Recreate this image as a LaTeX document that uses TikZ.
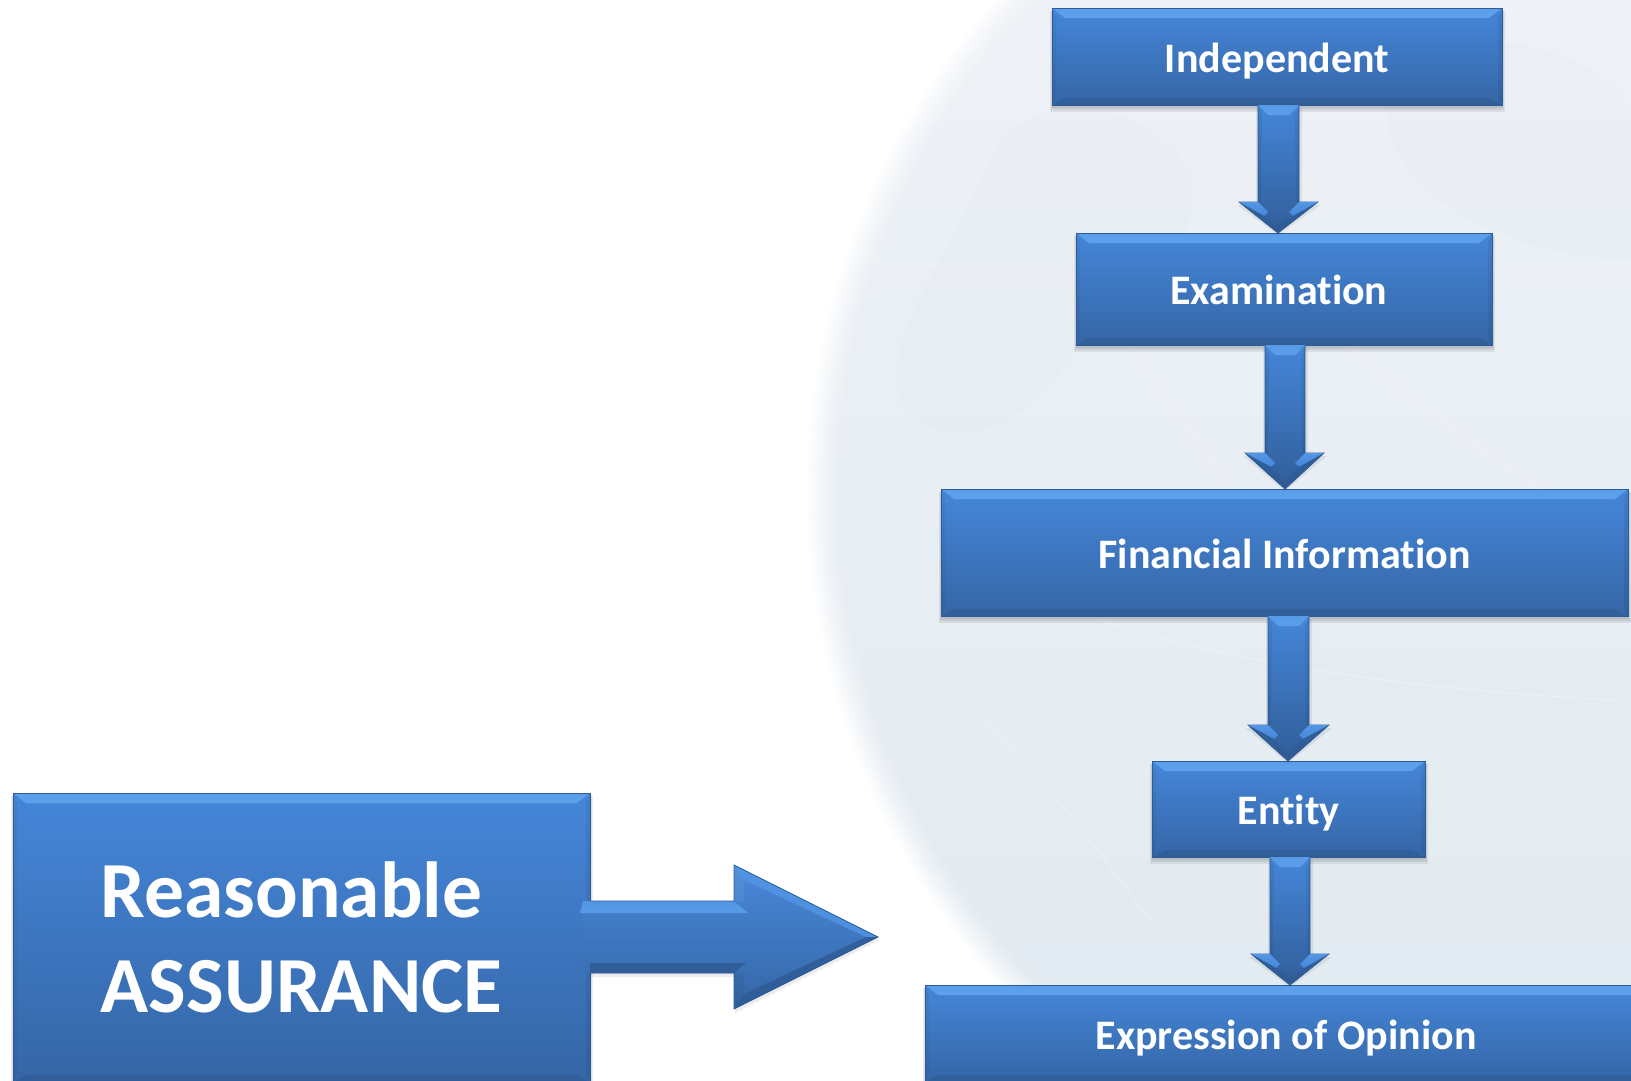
\documentclass[tikz,border=0pt]{standalone}
\usepackage{fontspec}
\setmainfont[Ligatures=NoCommon]{Carlito}
\usetikzlibrary{calc}
\definecolor{boxtop}{HTML}{4586D9}
\definecolor{boxbot}{HTML}{3566A6}
\definecolor{striptop}{HTML}{5FA2EC}
\definecolor{stripbot}{HTML}{2F5A92}
\definecolor{boxedge}{HTML}{2E5C96}
\definecolor{globetop}{HTML}{F1F3F8}
\definecolor{globebot}{HTML}{DFE9EF}
\tikzset{
  stepbox/.style={rectangle,inner sep=0pt,outer sep=0pt,draw=boxedge,line width=.8pt,
    top color=boxtop,bottom color=boxbot,text=white,font=\bfseries\fontsize{42}{50}\selectfont,
    text height=31pt,text depth=0pt,align=center},
  bigbox/.style={stepbox,font=\bfseries\fontsize{79.5}{95}\selectfont,text height=,text depth=,align=left},
  softshadow/.style={fill=black,opacity=.07},
  globeline/.style={draw=white,opacity=.3,line width=1pt},
  globeland/.style={fill=black,opacity=.007}
}
% name, x1, y1, x2, y2, style, text
\newcommand{\bevelbox}[7]{%
  \fill[softshadow] (#2-2,#3+3) rectangle (#4+3,#5+7);
  \fill[softshadow] (#2-1,#3+3) rectangle (#4+2,#5+5);
  \fill[softshadow] (#2,#3+3) rectangle (#4+1,#5+3);
  \node[#6,minimum width={(#4-#2)*1pt},minimum height={(#5-#3)*1pt}] (#1) at ({(#2+#4)/2},{(#3+#5)/2}) {#7};
  \shade[top color=striptop!80!boxtop,bottom color=striptop]
    (#1.north west) -- (#1.north east) -- ([shift={(-13,10)}]#1.north east) -- ([shift={(13,10)}]#1.north west) -- cycle;
  \fill[stripbot,opacity=.6] (#1.south west) -- (#1.south east) -- ([shift={(-13,-7)}]#1.south east) -- ([shift={(13,-7)}]#1.south west) -- cycle;
  \fill[black,opacity=.06] (#1.north east) -- (#1.south east) -- ([shift={(-4,-7)}]#1.south east) -- ([shift={(-4,10)}]#1.north east) -- cycle;
  \fill[black,opacity=.04] (#1.north west) -- (#1.south west) -- ([shift={(4,-7)}]#1.south west) -- ([shift={(4,10)}]#1.north west) -- cycle;
  \draw[boxedge,line width=.8pt] (#1.north west) rectangle (#1.south east);
}
% from node, to node, shaft left, shaft right, head left, head right, tip x, head base y
\newcommand{\blockarrow}[8]{%
  \coordinate (tl) at (#3,0 |- #1.south);
  \coordinate (tr) at (#4,0 |- #1.south);
  \coordinate (tip) at (#7,0 |- #2.north);
  \coordinate (bl) at (#3,#8);
  \coordinate (br) at (#4,#8);
  \coordinate (hl) at (#5,#8);
  \coordinate (hr) at (#6,#8);
  \fill[softshadow] ([shift={(3,3)}]tr) -- ([shift={(3,3)}]br) -- ([shift={(3,3)}]hr) -- ([shift={(0,2)}]tip) -- ([shift={(-2,3)}]hl) -- ([shift={(-2,3)}]bl) -- ([shift={(-2,3)}]tl) -- cycle;
  \shade[top color=boxtop,bottom color=boxbot!92!black,draw=boxedge,line width=.7pt]
    (tl) -- (bl) -- (hl) -- (tip) -- (hr) -- (br) -- (tr) -- cycle;
  \shade[top color=striptop!70!boxtop,bottom color=striptop!85!boxtop]
    (tl) -- (tr) -- ([shift={(-10,10)}]tr) -- ([shift={(10,10)}]tl) -- cycle;
  \fill[black,opacity=.06] (tl) -- ([shift={(4,10)}]tl) -- ([shift={(3,0)}]bl) -- (bl) -- cycle;
  \fill[black,opacity=.06] (tr) -- ([shift={(-4,10)}]tr) -- ([shift={(-3,0)}]br) -- (br) -- cycle;
  \shade[top color=striptop!60!boxtop,bottom color=boxtop]
    (hl) -- (bl) -- ([shift={(10,10)}]bl) -- ([shift={(6,14)}]bl) -- cycle;
  \shade[top color=striptop!60!boxtop,bottom color=boxtop]
    (hr) -- (br) -- ([shift={(-10,10)}]br) -- ([shift={(-6,14)}]br) -- cycle;
  \fill[stripbot,opacity=.6] (hl) -- (tip) -- ([shift={(0,-8)}]tip) -- ([shift={(6,14)}]bl) -- cycle;
  \fill[stripbot,opacity=.6] (hr) -- (tip) -- ([shift={(0,-8)}]tip) -- ([shift={(-6,14)}]br) -- cycle;
}
\begin{document}
\begin{tikzpicture}[x=1pt,y=-1pt]
\useasboundingbox (0,0) rectangle (1631,1080);
\fill[white] (0,0) rectangle (1631,1080);
% globe
\begin{scope}
  \clip (0,0) rectangle (1631,1080);
  \shade[top color=globetop,bottom color=globebot] (1545,490) circle[radius=737];
  \draw[white,line width=4pt] (1545,490) circle[radius=739];
  \foreach \i in {0,...,11}{
    \pgfmathsetmacro{\op}{(1-(\i+.5)/12)^1.5}
    \draw[white,opacity=\op,line width=3pt] (1545,490) circle[radius=737-1.5-\i*3];
  }
  \fill[globeland] (1000,140) .. controls (1040,90) and (1150,100) .. (1190,170) .. controls (1210,260) and (1120,290) .. (1080,340) .. controls (1040,420) and (950,470) .. (900,400) .. controls (880,330) and (960,240) .. cycle;
  \fill[globeland] (1400,60) .. controls (1480,20) and (1600,50) .. (1631,110) -- (1631,260) .. controls (1540,260) and (1440,220) .. (1400,160) .. controls (1380,120) and (1380,80) .. cycle;
  \draw[globeline] (1130,340) .. controls (1180,420) and (1260,520) .. (1300,590);
  \draw[globeline] (1330,330) .. controls (1400,390) and (1490,460) .. (1560,500);
  \draw[globeline] (960,700) .. controls (1040,770) and (1090,840) .. (1150,920);
  \draw[globeline] (1100,620) .. controls (1220,660) and (1400,690) .. (1620,700);
\end{scope}
% boxes
\bevelbox{ind}{1052}{8}{1502}{105}{stepbox}{Independent}
\bevelbox{exa}{1076}{233}{1492}{345}{stepbox}{\hspace*{-10.5pt}Examination}
\bevelbox{fin}{941}{489}{1628}{616}{stepbox}{Financial Information}
\bevelbox{ent}{1152}{761}{1425}{857}{stepbox}{Entity}
\bevelbox{exp}{925}{985}{1647}{1082}{stepbox}{Expression of Opinion}
\bevelbox{rea}{13}{793}{590}{1082}{bigbox}{Reasonable\\ASSURANCE}
% down arrows
\blockarrow{ind}{exa}{1258}{1299}{1239}{1318}{1278}{202}
\blockarrow{exa}{fin}{1265}{1305}{1245}{1324}{1285}{453}
\blockarrow{fin}{ent}{1268}{1309}{1248}{1329}{1288}{725}
\blockarrow{ent}{exp}{1270}{1310}{1251}{1329}{1290}{954}
% big arrow
\coordinate (bigtip) at (878,937);
\coordinate (bs) at (rea.east |- 0,901);
\coordinate (bt) at (583,901);
\coordinate (bu) at (583,973);
\coordinate (hb1) at (734,901);
\coordinate (ht) at (734,865);
\coordinate (hd) at (734,1009);
\coordinate (hb2) at (734,973);
\fill[softshadow] ([shift={(1,4)}]ht) -- ([shift={(2,3)}]bigtip) -- ([shift={(1,4)}]hd) -- ([shift={(1,4)}]hb2) -- ([shift={(0,4)}]rea.east |- hb2) -- ([shift={(0,4)}]rea.east |- hb1) -- ([shift={(1,4)}]hb1) -- cycle;
\shade[top color=boxtop!98!white,bottom color=boxbot]
  (bt) -- (hb1) -- (ht) -- (bigtip) -- (hd) -- (hb2) -- (bu) -- cycle;
\shade[top color=striptop!55!boxtop,bottom color=striptop!75!boxtop]
  (bt) -- (hb1) -- ([shift={(14,0)}]hb1 |- 0,913) -- (580,913) -- cycle;
\fill[stripbot,opacity=.8] (590,973) -- (hb2) -- ([shift={(12,-10)}]hb2) -- (590,963) -- cycle;
\shade[top color=striptop!50!boxtop,bottom color=striptop!30!boxtop] (ht) -- (bigtip) -- (866,937) -- (744,880) -- cycle;
\fill[stripbot,opacity=.8] (hd) -- (bigtip) -- (866,937) -- (744,994) -- cycle;
\fill[white,opacity=.06] (ht) -- (744,880) -- (744,901) -- (hb1) -- cycle;
\fill[black,opacity=.05] (hd) -- (744,994) -- (744,973) -- (hb2) -- cycle;
\draw[boxedge,line width=.7pt] (bs) -- (hb1) -- (ht) -- (bigtip) -- (hd) -- (hb2) -- (rea.east |- hb2);
\end{tikzpicture}
\end{document}
